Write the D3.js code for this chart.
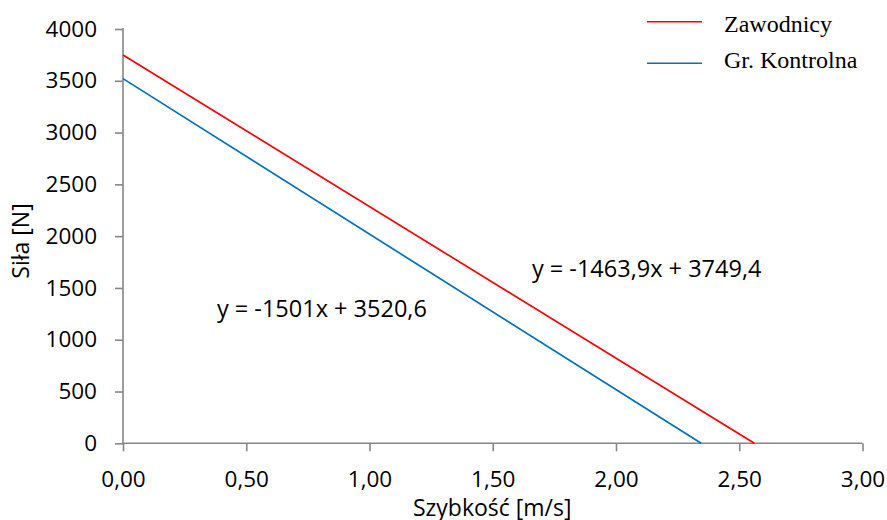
<!DOCTYPE html>
<html>
<head>
<meta charset="utf-8">
<script src="https://cdn.jsdelivr.net/npm/d3@7"></script>
<style>
  html, body { margin: 0; padding: 0; background: #fff; }
  svg { display: block; }
</style>
</head>
<body>
<svg id="chart" width="887" height="520"></svg>
<script>
// Series: linear fits F = slope * v + intercept
const seriesNames = ["Zawodnicy", "Gr. Kontrolna"];
const seriesColors = ["#ff0000", "#0070c0"];
const slopes = [-1463.9, -1501];
const intercepts = [3749.4, 3520.6];
const equationLabels = ["y = -1463,9x + 3749,4", "y = -1501x + 3520,6"];

const xTicks = [0, 0.5, 1, 1.5, 2, 2.5, 3];
const yTicks = [0, 500, 1000, 1500, 2000, 2500, 3000, 3500, 4000];

(function () {
const svg = d3.select("#chart");
const plotLeft = 123, plotRight = 862.5, plotTop = 29, plotBottom = 443.3;

const x = d3.scaleLinear().domain([0, 3]).range([plotLeft, plotRight]);
const y = d3.scaleLinear().domain([0, 4000]).range([plotBottom, plotTop]);

const axisColor = "#868686";
const textFont = "'Open Sans', sans-serif";

// Y axis
const yAxis = svg.append("g")
  .attr("transform", `translate(${plotLeft},0)`)
  .call(d3.axisLeft(y).tickValues(yTicks).tickSize(8).tickPadding(18)
    .tickFormat(d => String(d)));
// X axis
const xAxis = svg.append("g")
  .attr("transform", `translate(0,${plotBottom})`)
  .call(d3.axisBottom(x).tickValues(xTicks).tickSize(8).tickPadding(20)
    .tickFormat(d => d3.format(".2f")(d).replace(".", ",")));

[yAxis, xAxis].forEach(g => {
  g.select(".domain").attr("stroke", axisColor).attr("stroke-width", 1.6);
  g.selectAll(".tick line").attr("stroke", axisColor).attr("stroke-width", 1.6);
  g.selectAll(".tick text")
    .attr("fill", "#000")
    .style("font-family", textFont)
    .style("font-size", "22.5px");
});
// domain paths without outer ticks
yAxis.select(".domain").attr("d", `M0,${plotBottom}V${plotTop - 1}`);
xAxis.select(".domain").attr("d", `M${plotLeft},0H${plotRight}`);

// Trend lines from each equation, x = 0 to the zero crossing
const line = d3.line().x(d => x(d[0])).y(d => y(d[1]));
seriesNames.forEach((name, i) => {
  const xEnd = -intercepts[i] / slopes[i];
  const pts = [[0, intercepts[i]], [xEnd, slopes[i] * xEnd + intercepts[i]]];
  svg.append("path")
    .datum(pts)
    .attr("d", line)
    .attr("fill", "none")
    .attr("stroke", seriesColors[i])
    .attr("stroke-width", 1.7);
});

// Equation labels
const eqPos = [[1.659, 1605], [0.381, 1219]];
equationLabels.forEach((t, i) => {
  svg.append("text")
    .attr("x", x(eqPos[i][0]))
    .attr("y", y(eqPos[i][1]))
    .attr("font-family", textFont)
    .attr("font-size", "23.5px")
    .attr("fill", "#000")
    .text(t);
});

// Axis titles
svg.append("text")
  .attr("x", x(1.5) - 0.5)
  .attr("y", 516)
  .attr("text-anchor", "middle")
  .attr("font-family", textFont)
  .attr("font-size", "23px")
  .text("Szybkość [m/s]");
svg.append("text")
  .attr("transform", `translate(29,241) rotate(-90)`)
  .attr("text-anchor", "middle")
  .attr("font-family", textFont)
  .attr("font-size", "23px")
  .text("Siła [N]");

// Legend
const legend = svg.append("g");
const legendLineY = [21.7, 63.3];
const legendTextY = [31.7, 68.3];
seriesNames.forEach((name, i) => {
  legend.append("line")
    .attr("x1", 647).attr("x2", 702)
    .attr("y1", legendLineY[i]).attr("y2", legendLineY[i])
    .attr("stroke", seriesColors[i])
    .attr("stroke-width", 1.5);
  legend.append("text")
    .attr("x", 724).attr("y", legendTextY[i])
    .attr("font-family", "'Liberation Serif', 'Times New Roman', serif")
    .attr("font-size", "24px")
    .attr("fill", "#000")
    .text(name);
});
})();
</script>
</body>
</html>
